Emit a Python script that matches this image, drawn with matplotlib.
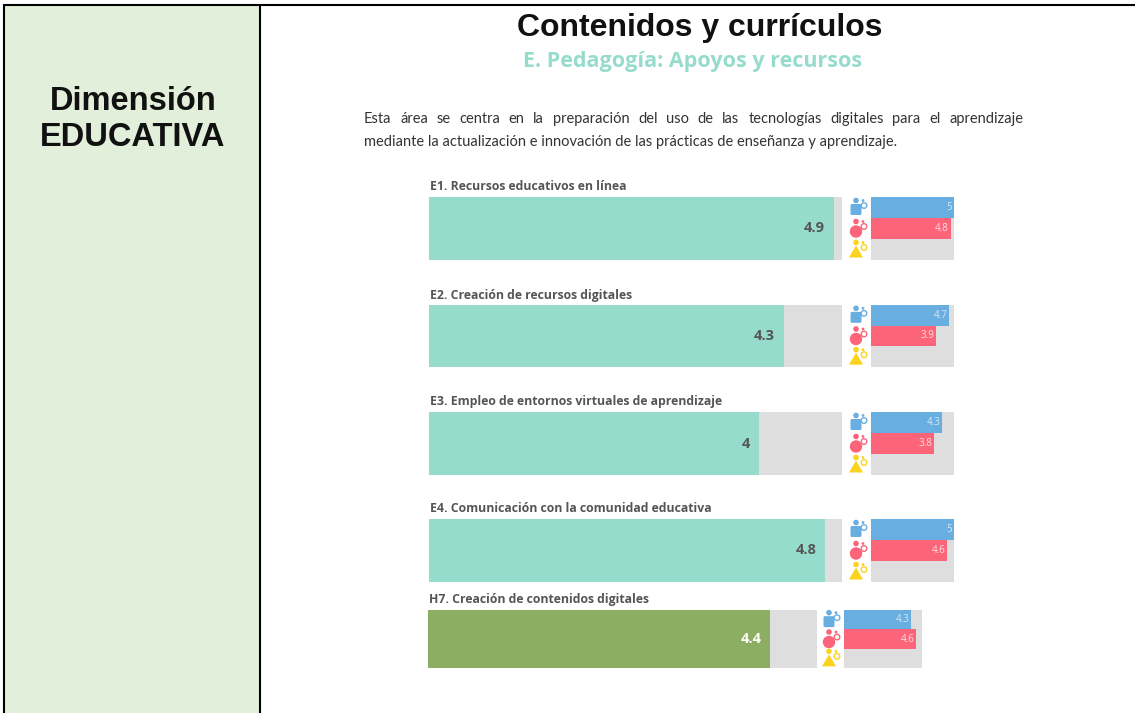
#!/usr/bin/env python3
"""Contenidos y curriculos: SELFIE style bars pasted into a table cell."""

import matplotlib

matplotlib.use("Agg")
import matplotlib.pyplot as plt
from matplotlib.patches import Circle, Polygon, Rectangle, FancyBboxPatch

W, H = 1135, 713

GREEN_CELL = "#e2efda"
TEAL = "#96dccc"
OLIVE = "#8bae62"
GREY = "#dedede"
BLUE = "#69aee0"
RED = "#fb6479"
YELLOW = "#fbd21e"
TXT = "#555555"

labels = [
    "E1. Recursos educativos en línea",
    "E2. Creación de recursos digitales",
    "E3. Empleo de entornos virtuales de aprendizaje",
    "E4. Comunicación con la comunidad educativa",
    "H7. Creación de contenidos digitales",
]
overall = [4.9, 4.3, 4.0, 4.8, 4.4]
overall_txt = ["4.9", "4.3", "4", "4.8", "4.4"]
teachers = [5, 4.7, 4.3, 5, 4.3]
teachers_txt = ["5", "4.7", "4.3", "5", "4.3"]
leaders = [4.8, 3.9, 3.8, 4.6, 4.6]
MAX_SCORE = 5

para_lines = [
    "Esta área se centra en la preparación del uso de las tecnologías digitales para el aprendizaje",
    "mediante la actualización e innovación de las prácticas de enseñanza y aprendizaje.",
]

# pixel boxes: main left, main right, small left, small right, top, bottom
boxes = [
    (429, 842, 871, 954, 197, 260),
    (429, 842, 871, 954, 305, 367),
    (429, 842, 871, 954, 412, 475),
    (429, 842, 871, 954, 519, 582),
    (428, 817, 844, 922, 610, 668),
]

fig = plt.figure(figsize=(W / 100, H / 100), dpi=100)
bg = fig.add_axes([0, 0, 1, 1])
bg.set_xlim(0, W)
bg.set_ylim(H, 0)
bg.axis("off")


def px_axes(x0, x1, y0, y1):
    ax = fig.add_axes([x0 / W, 1 - y1 / H, (x1 - x0) / W, (y1 - y0) / H])
    ax.set_xlim(0, MAX_SCORE)
    ax.set_facecolor(GREY)
    ax.set_xticks([])
    ax.set_yticks([])
    for s in ax.spines.values():
        s.set_visible(False)
    return ax


def icon(x, y, color, kind):
    # little person + child pictogram, centred on x, y
    bg.add_patch(Circle((x - 2, y - 7), 2.8, color=color, lw=0))
    bg.add_patch(Circle((x + 5, y - 7), 1.4, color=color, lw=0))
    bg.add_patch(Circle((x + 6, y - 2), 2.8, fill=False, ec=color, lw=1.0))
    if kind == "square":
        bg.add_patch(FancyBboxPatch((x - 6, y - 2), 8, 8, boxstyle="round,pad=1.5", color=color, lw=0))
    elif kind == "circle":
        bg.add_patch(Circle((x - 2, y + 3), 6.2, color=color, lw=0))
    else:
        bg.add_patch(Polygon([(x - 2, y - 4), (x + 5, y + 8), (x - 9, y + 8)], color=color, lw=0))


def justified(line, x0, x1, y, size):
    # word by word so the line fills the whole column
    words = line.split(" ")
    items = [bg.text(0, y, w, fontsize=size, family="Lato", color="#333333", va="center") for w in words]
    rend = fig.canvas.get_renderer()
    widths = [t.get_window_extent(rend).width for t in items]
    gap = (x1 - x0 - sum(widths)) / (len(words) - 1)
    x = x0
    for t, w in zip(items, widths):
        t.set_x(x)
        x += w + gap


# table frame
bg.add_patch(Rectangle((4, 5), 256, H, fc=GREEN_CELL, ec="none"))
bg.plot([4, 4], [5, H], color="black", lw=1.5, solid_capstyle="butt")
bg.plot([260, 260], [5, H], color="black", lw=1.5, solid_capstyle="butt")
bg.plot([3, W], [5, 5], color="black", lw=1.5, solid_capstyle="butt")

bg.text(133, 101, "Dimensión", fontsize=23.5, fontweight="bold", family="Liberation Sans", ha="center", va="center", color="#111111")
bg.text(133, 138, "EDUCATIVA", fontsize=23.5, fontweight="bold", family="Liberation Sans", ha="center", va="center", color="#111111")
bg.text(700, 28, "Contenidos y currículos", fontsize=23, fontweight="bold", family="Liberation Sans", ha="center", va="center", color="#111111")
bg.text(693, 61, "E. Pedagogía: Apoyos y recursos", fontsize=15.5, fontweight="bold", family="Open Sans", ha="center", va="center", color=TEAL)

justified(para_lines[0], 364, 1023, 119, 10.5)
bg.text(364, 142, para_lines[1], fontsize=10.5, family="Lato", color="#333333", va="center")

for i, (x0, x1, sx0, sx1, y0, y1) in enumerate(boxes):
    is_h7 = i == 4
    bg.text(x0 + 1, y0 - 10, labels[i], fontsize=8.8, fontweight="bold", family="Open Sans", color=TXT, va="center")

    ax = px_axes(x0, x1, y0, y1)
    ax.barh([0], [overall[i]], height=1, color=OLIVE if is_h7 else TEAL)
    ax.set_ylim(-0.5, 0.5)
    ax.text(overall[i] - 0.11, 0, overall_txt[i], ha="right", va="center", fontsize=10.5,
            fontweight="bold", family="Open Sans", color="white" if is_h7 else TXT)

    sm = px_axes(sx0, sx1, y0, y1)
    sm.barh([0], [teachers[i]], height=1, color=BLUE)
    sm.barh([1], [leaders[i]], height=1, color=RED)
    sm.set_ylim(2.5, -0.5)
    sm.text(teachers[i] - 0.1, 0, teachers_txt[i], ha="right", va="center", fontsize=7, family="Open Sans", color="#d5e8f7")
    sm.text(leaders[i] - 0.1, 1, str(leaders[i]), ha="right", va="center", fontsize=7, family="Open Sans", color="#fde0e4")

    ix = sx0 - 13
    h = (y1 - y0) / 3
    icon(ix, y0 + h * 0.5, BLUE, "square")
    icon(ix, y0 + h * 1.5, RED, "circle")
    icon(ix, y0 + h * 2.5, YELLOW, "triangle")

fig.savefig("out.png", dpi=100)
plt.close(fig)
